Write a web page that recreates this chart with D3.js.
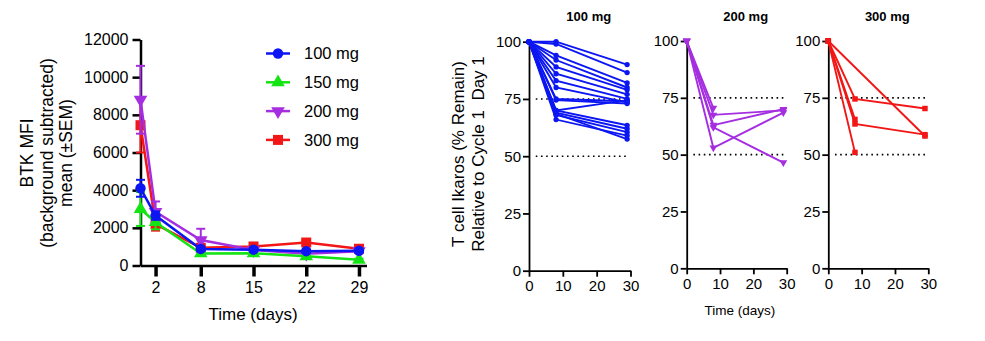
<!DOCTYPE html>
<html>
<head>
<meta charset="utf-8">
<script src="https://cdn.jsdelivr.net/npm/d3@7/dist/d3.min.js"></script>
<style>
  body { margin: 0; background: #fff; }
  svg { font-family: Arial, "Liberation Sans", sans-serif; }
</style>
</head>
<body>
<script>
var W = 985, H = 341;

// ---- BTK MFI, mean +/- SEM per dose group ----
var DAYS = [0, 2, 8, 15, 22, 29];
var DAY_TICKS = [2, 8, 15, 22, 29];
var MFI_TICKS = [0, 2000, 4000, 6000, 8000, 10000, 12000];
var DOSES = ["100 mg", "150 mg", "200 mg", "300 mg"];
var MFI_100 = [4100, 2650, 880, 840, 760, 780];
var SEM_100 = [450, 220, 110, 100, 90, 80];
var MFI_150 = [3000, 2300, 640, 650, 490, 300];
var SEM_150 = [900, 380, 110, 110, 110, 60];
var MFI_200 = [8800, 2850, 1350, 820, 620, 760];
var SEM_200 = [1800, 550, 600, 100, 100, 100];
var MFI_300 = [7450, 2200, 940, 1010, 1220, 890];
var SEM_300 = [1450, 350, 110, 100, 100, 90];

// ---- T cell Ikaros, % of Cycle 1 Day 1, one row per subject (day 0, 8, 29) ----
var IK_DAYS = [0, 8, 29];
var IK_X_TICKS = [0, 10, 20, 30];
var IK_Y_TICKS = [0, 25, 50, 75, 100];
var IK_REF = [75, 50];
var IK_100 = [
  [100, 100, 90], [100, 99, 86.5], [100, 94, 82], [100, 92, 80],
  [100, 89, 79], [100, 86, 77], [100, 83, 75], [100, 80, 73.5],
  [100, 75, 74], [100, 74.5, 73], [100, 70, 74.5], [100, 70, 63.5],
  [100, 69, 62], [100, 68, 60.5], [100, 66, 59], [100, 68.5, 57.5]
];
var IK_200 = [
  [100, 70.5, null], [100, 67.5, 69.5], [100, 63, 70], [100, 62, 46.5], [100, 53, 68.5]
];
var IK_300 = [
  [100, 74.5, 70.3], [100, 65.5, null], [100, 63.5, 58.8], [100, 51, null], [100, null, 58.2]
];

var BLUE = "#0b16f2", GREEN = "#14e414", PURPLE = "#a52ee0", RED = "#f21616";

var SVG = d3.select("body").append("svg").attr("width", W).attr("height", H);

function styleAxis(g, sw, fs) {
  g.select(".domain").attr("stroke", "#000").attr("stroke-width", sw);
  g.selectAll(".tick line").attr("stroke", "#000").attr("stroke-width", sw);
  g.selectAll(".tick text").attr("fill", "#000").style("font-size", fs + "px").attr("font-family", null);
  g.attr("font-family", null);
}

function sym(type, size, rot) {
  var p = d3.symbol().type(type).size(size)();
  return { d: p, rot: rot || 0 };
}

// ================= left chart =================
var xL = d3.scaleLinear().domain([0, 30]).range([140.5, 366.5]);
var yL = d3.scaleLinear().domain([0, 12000]).range([265.5, 39.5]);

var LEFT = SVG.append("g").attr("id", "btk");

LEFT.append("g").attr("transform", "translate(" + xL(0) + ",0)")
    .call(d3.axisLeft(yL).tickValues(MFI_TICKS).tickSize(8).tickSizeOuter(0).tickPadding(4).tickFormat(d3.format("d")))
    .call(styleAxis, 2.5, 16);

LEFT.append("g").attr("transform", "translate(0," + yL(0) + ")")
    .call(d3.axisBottom(xL).tickValues(DAY_TICKS).tickSize(11).tickSizeOuter(0).tickPadding(5))
    .call(styleAxis, 2.5, 16)
    .call(function(g){ g.selectAll(".tick line").attr("stroke-width", 3.5); });

LEFT.append("text").attr("x", 253).attr("y", 320).attr("text-anchor", "middle")
    .style("font-size", "17px").text("Time (days)");

var yLab = ["BTK MFI", "(background subtracted)", "mean (±SEM)"];
var yLabX = [27, 47, 66];
yLab.forEach(function(t, i) {
  LEFT.append("text").attr("transform", "translate(" + yLabX[i] + ",153) rotate(-90)")
      .attr("text-anchor", "middle").attr("dy", "0.35em").style("font-size", "17.5px").text(t);
});

var SERIES = [
  { name: DOSES[3], v: MFI_300, s: SEM_300, c: RED, m: sym(d3.symbolSquare, 100) },
  { name: DOSES[2], v: MFI_200, s: SEM_200, c: PURPLE, m: sym(d3.symbolTriangle, 80, 180) },
  { name: DOSES[1], v: MFI_150, s: SEM_150, c: GREEN, m: sym(d3.symbolTriangle, 80) },
  { name: DOSES[0], v: MFI_100, s: SEM_100, c: BLUE, m: sym(d3.symbolCircle, 85) }
];

var line = d3.line().x(function(d){ return xL(d[0]); }).y(function(d){ return yL(d[1]); });

SERIES.forEach(function(ser) {
  var g = LEFT.append("g");
  var pts = DAYS.map(function(d, i){ return [d, ser.v[i], ser.s[i]]; });
  // error bars
  pts.forEach(function(p) {
    var x = xL(p[0]), y1 = yL(p[1] - p[2]), y2 = yL(p[1] + p[2]);
    g.append("line").attr("x1", x).attr("x2", x).attr("y1", y1).attr("y2", y2)
     .attr("stroke", ser.c).attr("stroke-width", 2);
    [y1, y2].forEach(function(yy) {
      g.append("line").attr("x1", x - 4.5).attr("x2", x + 4.5).attr("y1", yy).attr("y2", yy)
       .attr("stroke", ser.c).attr("stroke-width", 2);
    });
  });
  g.append("path").datum(pts).attr("d", line).attr("fill", "none")
   .attr("stroke", ser.c).attr("stroke-width", 2.5);
  g.selectAll("path.mk").data(pts).join("path").attr("class", "mk")
   .attr("d", ser.m.d).attr("fill", ser.c)
   .attr("transform", function(p){ return "translate(" + xL(p[0]) + "," + yL(p[1]) + ") rotate(" + ser.m.rot + ")"; });
});

// legend
var LEG = LEFT.append("g");
SERIES.slice().reverse().forEach(function(ser, i) {
  var y = 53.5 + i * 28.8;
  LEG.append("line").attr("x1", 266).attr("x2", 290).attr("y1", y).attr("y2", y)
     .attr("stroke", ser.c).attr("stroke-width", 2.5);
  LEG.append("path").attr("d", ser.m.d).attr("fill", ser.c)
     .attr("transform", "translate(278," + y + ") rotate(" + ser.m.rot + ")");
  LEG.append("text").attr("x", 304).attr("y", y).attr("dy", "0.35em")
     .style("font-size", "16.5px").text(ser.name);
});

// ================= right panels =================
var PANELS = [
  { title: "100 mg", data: IK_100, c: BLUE, m: sym(d3.symbolCircle, 22), x0: 529, x1: 630.5, yb: 270.7, yt: 41.7, lab: 288.5 },
  { title: "200 mg", data: IK_200, c: PURPLE, m: sym(d3.symbolTriangle, 26, 180), x0: 686.7, x1: 786.7, yb: 268.3, yt: 41, lab: 287 },
  { title: "300 mg", data: IK_300, c: RED, m: sym(d3.symbolSquare, 30), x0: 828.3, x1: 928.3, yb: 268.3, yt: 41, lab: 287 }
];

PANELS.forEach(function(P) {
  var g = SVG.append("g");
  var x = d3.scaleLinear().domain([0, 30]).range([P.x0, P.x1]);
  var y = d3.scaleLinear().domain([0, 100]).range([P.yb, P.yt]);

  IK_REF.forEach(function(r) {
    g.append("line").attr("x1", x(2)).attr("x2", x(29.5)).attr("y1", y(r)).attr("y2", y(r))
     .attr("stroke", "#000").attr("stroke-width", 1.6).attr("stroke-dasharray", "1.6,3.6");
  });

  g.append("g").attr("transform", "translate(" + x(0) + ",0)")
   .call(d3.axisLeft(y).tickValues(IK_Y_TICKS).tickSize(6).tickSizeOuter(0).tickPadding(2))
   .call(styleAxis, 1.8, 15);
  g.append("g").attr("transform", "translate(0," + y(0) + ")")
   .call(d3.axisBottom(x).tickValues(IK_X_TICKS).tickSize(6).tickSizeOuter(0).tickPadding(4))
   .call(styleAxis, 1.8, 15);

  g.append("text").attr("x", (P.x0 + P.x1) / 2 + 9).attr("y", 21).attr("text-anchor", "middle")
   .style("font-size", "13px").style("font-weight", "bold").text(P.title);

  var ln = d3.line().x(function(d){ return x(d[0]); }).y(function(d){ return y(d[1]); });
  P.data.forEach(function(row) {
    var pts = IK_DAYS.map(function(d, i){ return [d, row[i]]; })
                     .filter(function(p){ return p[1] != null; });
    g.append("path").datum(pts).attr("d", ln).attr("fill", "none")
     .attr("stroke", P.c).attr("stroke-width", 1.9);
    pts.forEach(function(p) {
      g.append("path").attr("d", P.m.d).attr("fill", P.c)
       .attr("transform", "translate(" + x(p[0]) + "," + y(p[1]) + ") rotate(" + P.m.rot + ")");
    });
  });
});

SVG.append("text").attr("x", 740).attr("y", 310).attr("dy", "0.35em").attr("text-anchor", "middle")
   .style("font-size", "13.5px").text("Time (days)");

var ikLab = ["T cell Ikaros (% Remain)", "Relative to Cycle 1  Day 1"];
[458, 478].forEach(function(xx, i) {
  SVG.append("text").attr("transform", "translate(" + xx + ",154) rotate(-90)")
     .attr("text-anchor", "middle").attr("dy", "0.35em")
     .style("font-size", "17px").style("white-space", "pre").text(ikLab[i]);
});
</script>
</body>
</html>
